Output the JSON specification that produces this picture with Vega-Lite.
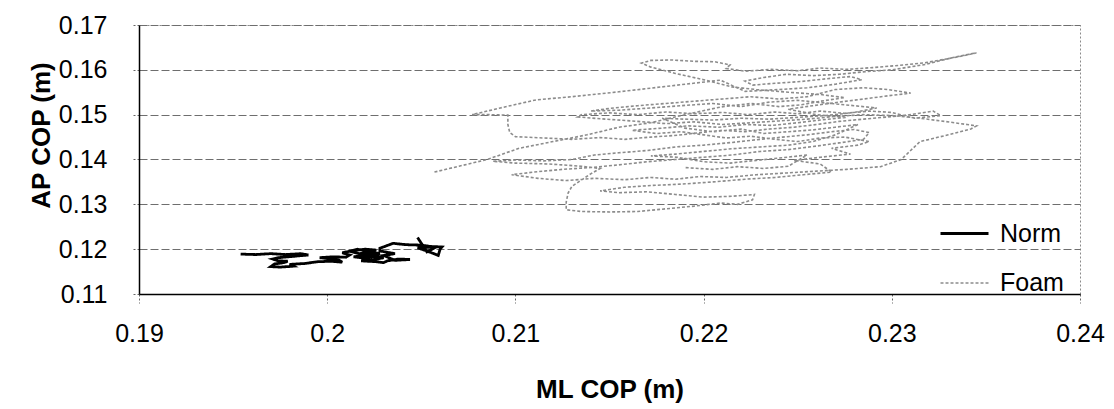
{
  "$schema": "https://vega.github.io/schema/vega-lite/v6.json",
  "width": 941,
  "height": 269,
  "autosize": {"type": "none"},
  "padding": {"left": 139, "top": 25, "right": 34, "bottom": 115},
  "background": "white",
  "config": {
    "font": "Liberation Sans",
    "view": {"stroke": "#8a8a8a", "strokeDash": [2, 2], "strokeWidth": 1},
    "axis": {
      "domainColor": "#000000",
      "domainWidth": 1.5,
      "tickColor": "#666666",
      "tickDash": [2, 2],
      "labelFlush": false,
      "labelOverlap": false,
      "labelFont": "Liberation Sans",
      "labelFontSize": 25,
      "labelColor": "#000000",
      "titleFont": "Liberation Sans",
      "titleFontSize": 26,
      "titleFontWeight": "bold",
      "titleColor": "#000000"
    }
  },
  "data": {"values": [
    {"s":"Norm","i":1,"x":0.1954,"y":0.1189},
    {"s":"Norm","i":2,"x":0.1962,"y":0.1188},
    {"s":"Norm","i":3,"x":0.1970,"y":0.1190},
    {"s":"Norm","i":4,"x":0.1978,"y":0.1188},
    {"s":"Norm","i":5,"x":0.1986,"y":0.1190},
    {"s":"Norm","i":6,"x":0.1990,"y":0.1187},
    {"s":"Norm","i":7,"x":0.1982,"y":0.1184},
    {"s":"Norm","i":8,"x":0.1974,"y":0.1181},
    {"s":"Norm","i":9,"x":0.1971,"y":0.1178},
    {"s":"Norm","i":10,"x":0.1974,"y":0.1174},
    {"s":"Norm","i":11,"x":0.1979,"y":0.1173},
    {"s":"Norm","i":12,"x":0.1977,"y":0.1170},
    {"s":"Norm","i":13,"x":0.1972,"y":0.1167},
    {"s":"Norm","i":14,"x":0.1970,"y":0.1161},
    {"s":"Norm","i":15,"x":0.1975,"y":0.1160},
    {"s":"Norm","i":16,"x":0.1982,"y":0.1162},
    {"s":"Norm","i":17,"x":0.1980,"y":0.1166},
    {"s":"Norm","i":18,"x":0.1988,"y":0.1168},
    {"s":"Norm","i":19,"x":0.1995,"y":0.1172},
    {"s":"Norm","i":20,"x":0.2002,"y":0.1173},
    {"s":"Norm","i":21,"x":0.2008,"y":0.1171},
    {"s":"Norm","i":22,"x":0.2006,"y":0.1176},
    {"s":"Norm","i":23,"x":0.2000,"y":0.1179},
    {"s":"Norm","i":24,"x":0.1996,"y":0.1181},
    {"s":"Norm","i":25,"x":0.2003,"y":0.1183},
    {"s":"Norm","i":26,"x":0.2010,"y":0.1182},
    {"s":"Norm","i":27,"x":0.2012,"y":0.1187},
    {"s":"Norm","i":28,"x":0.2008,"y":0.1192},
    {"s":"Norm","i":29,"x":0.2014,"y":0.1197},
    {"s":"Norm","i":30,"x":0.2020,"y":0.1200},
    {"s":"Norm","i":31,"x":0.2026,"y":0.1198},
    {"s":"Norm","i":32,"x":0.2023,"y":0.1193},
    {"s":"Norm","i":33,"x":0.2017,"y":0.1190},
    {"s":"Norm","i":34,"x":0.2012,"y":0.1195},
    {"s":"Norm","i":35,"x":0.2016,"y":0.1200},
    {"s":"Norm","i":36,"x":0.2022,"y":0.1195},
    {"s":"Norm","i":37,"x":0.2028,"y":0.1190},
    {"s":"Norm","i":38,"x":0.2021,"y":0.1186},
    {"s":"Norm","i":39,"x":0.2014,"y":0.1183},
    {"s":"Norm","i":40,"x":0.2020,"y":0.1180},
    {"s":"Norm","i":41,"x":0.2026,"y":0.1184},
    {"s":"Norm","i":42,"x":0.2030,"y":0.1181},
    {"s":"Norm","i":43,"x":0.2024,"y":0.1176},
    {"s":"Norm","i":44,"x":0.2018,"y":0.1174},
    {"s":"Norm","i":45,"x":0.2026,"y":0.1172},
    {"s":"Norm","i":46,"x":0.2030,"y":0.1170},
    {"s":"Norm","i":47,"x":0.2032,"y":0.1174},
    {"s":"Norm","i":48,"x":0.2038,"y":0.1178},
    {"s":"Norm","i":49,"x":0.2044,"y":0.1177},
    {"s":"Norm","i":50,"x":0.2036,"y":0.1175},
    {"s":"Norm","i":51,"x":0.2030,"y":0.1186},
    {"s":"Norm","i":52,"x":0.2036,"y":0.1190},
    {"s":"Norm","i":53,"x":0.2028,"y":0.1196},
    {"s":"Norm","i":54,"x":0.2028,"y":0.1202},
    {"s":"Norm","i":55,"x":0.2035,"y":0.1213},
    {"s":"Norm","i":56,"x":0.2042,"y":0.1210},
    {"s":"Norm","i":57,"x":0.2050,"y":0.1209},
    {"s":"Norm","i":58,"x":0.2055,"y":0.1206},
    {"s":"Norm","i":59,"x":0.2061,"y":0.1205},
    {"s":"Norm","i":60,"x":0.2060,"y":0.1200},
    {"s":"Norm","i":61,"x":0.2059,"y":0.1186},
    {"s":"Norm","i":62,"x":0.2053,"y":0.1196},
    {"s":"Norm","i":63,"x":0.2048,"y":0.1203},
    {"s":"Norm","i":64,"x":0.2058,"y":0.1205},
    {"s":"Norm","i":65,"x":0.2053,"y":0.1194},
    {"s":"Norm","i":66,"x":0.2048,"y":0.1226},
    {"s":"Foam","i":1,"x":0.2057,"y":0.1372},
    {"s":"Foam","i":2,"x":0.2070,"y":0.1385},
    {"s":"Foam","i":3,"x":0.2085,"y":0.1400},
    {"s":"Foam","i":4,"x":0.2102,"y":0.1425},
    {"s":"Foam","i":5,"x":0.2120,"y":0.1440},
    {"s":"Foam","i":6,"x":0.2138,"y":0.1455},
    {"s":"Foam","i":7,"x":0.2155,"y":0.1472},
    {"s":"Foam","i":8,"x":0.2172,"y":0.1482},
    {"s":"Foam","i":9,"x":0.2190,"y":0.1500},
    {"s":"Foam","i":10,"x":0.2209,"y":0.1517},
    {"s":"Foam","i":11,"x":0.2225,"y":0.1525},
    {"s":"Foam","i":12,"x":0.2240,"y":0.1518},
    {"s":"Foam","i":13,"x":0.2252,"y":0.1522},
    {"s":"Foam","i":14,"x":0.2262,"y":0.1530},
    {"s":"Foam","i":15,"x":0.2275,"y":0.1538},
    {"s":"Foam","i":16,"x":0.2262,"y":0.1545},
    {"s":"Foam","i":17,"x":0.2245,"y":0.1550},
    {"s":"Foam","i":18,"x":0.2228,"y":0.1556},
    {"s":"Foam","i":19,"x":0.2215,"y":0.1562},
    {"s":"Foam","i":20,"x":0.2200,"y":0.1578},
    {"s":"Foam","i":21,"x":0.2185,"y":0.1592},
    {"s":"Foam","i":22,"x":0.2172,"y":0.1606},
    {"s":"Foam","i":23,"x":0.2167,"y":0.1615},
    {"s":"Foam","i":24,"x":0.2172,"y":0.1621},
    {"s":"Foam","i":25,"x":0.2183,"y":0.1622},
    {"s":"Foam","i":26,"x":0.2195,"y":0.1619},
    {"s":"Foam","i":27,"x":0.2206,"y":0.1618},
    {"s":"Foam","i":28,"x":0.2214,"y":0.1611},
    {"s":"Foam","i":29,"x":0.2212,"y":0.1603},
    {"s":"Foam","i":30,"x":0.2222,"y":0.1597},
    {"s":"Foam","i":31,"x":0.2236,"y":0.1601},
    {"s":"Foam","i":32,"x":0.2250,"y":0.1598},
    {"s":"Foam","i":33,"x":0.2262,"y":0.1604},
    {"s":"Foam","i":34,"x":0.2276,"y":0.1601},
    {"s":"Foam","i":35,"x":0.2290,"y":0.1605},
    {"s":"Foam","i":36,"x":0.2304,"y":0.1610},
    {"s":"Foam","i":37,"x":0.2318,"y":0.1616},
    {"s":"Foam","i":38,"x":0.2330,"y":0.1625},
    {"s":"Foam","i":39,"x":0.2340,"y":0.1633},
    {"s":"Foam","i":40,"x":0.2345,"y":0.1638},
    {"s":"Foam","i":41,"x":0.2332,"y":0.1627},
    {"s":"Foam","i":42,"x":0.2318,"y":0.1612},
    {"s":"Foam","i":43,"x":0.2300,"y":0.1600},
    {"s":"Foam","i":44,"x":0.2286,"y":0.1596},
    {"s":"Foam","i":45,"x":0.2272,"y":0.1590},
    {"s":"Foam","i":46,"x":0.2258,"y":0.1587},
    {"s":"Foam","i":47,"x":0.2244,"y":0.1590},
    {"s":"Foam","i":48,"x":0.2232,"y":0.1583},
    {"s":"Foam","i":49,"x":0.2222,"y":0.1575},
    {"s":"Foam","i":50,"x":0.2226,"y":0.1566},
    {"s":"Foam","i":51,"x":0.2238,"y":0.1570},
    {"s":"Foam","i":52,"x":0.2252,"y":0.1574},
    {"s":"Foam","i":53,"x":0.2265,"y":0.1580},
    {"s":"Foam","i":54,"x":0.2278,"y":0.1585},
    {"s":"Foam","i":55,"x":0.2284,"y":0.1578},
    {"s":"Foam","i":56,"x":0.2270,"y":0.1568},
    {"s":"Foam","i":57,"x":0.2255,"y":0.1560},
    {"s":"Foam","i":58,"x":0.2240,"y":0.1556},
    {"s":"Foam","i":59,"x":0.2222,"y":0.1552},
    {"s":"Foam","i":60,"x":0.2209,"y":0.1577},
    {"s":"Foam","i":61,"x":0.2180,"y":0.1563},
    {"s":"Foam","i":62,"x":0.2155,"y":0.1551},
    {"s":"Foam","i":63,"x":0.2130,"y":0.1540},
    {"s":"Foam","i":64,"x":0.2111,"y":0.1533},
    {"s":"Foam","i":65,"x":0.2092,"y":0.1515},
    {"s":"Foam","i":66,"x":0.2077,"y":0.1500},
    {"s":"Foam","i":67,"x":0.2087,"y":0.1500},
    {"s":"Foam","i":68,"x":0.2096,"y":0.1499},
    {"s":"Foam","i":69,"x":0.2096,"y":0.1478},
    {"s":"Foam","i":70,"x":0.2097,"y":0.1460},
    {"s":"Foam","i":71,"x":0.2100,"y":0.1451},
    {"s":"Foam","i":72,"x":0.2115,"y":0.1448},
    {"s":"Foam","i":73,"x":0.2130,"y":0.1445},
    {"s":"Foam","i":74,"x":0.2145,"y":0.1449},
    {"s":"Foam","i":75,"x":0.2158,"y":0.1445},
    {"s":"Foam","i":76,"x":0.2172,"y":0.1450},
    {"s":"Foam","i":77,"x":0.2186,"y":0.1454},
    {"s":"Foam","i":78,"x":0.2198,"y":0.1460},
    {"s":"Foam","i":79,"x":0.2210,"y":0.1465},
    {"s":"Foam","i":80,"x":0.2222,"y":0.1462},
    {"s":"Foam","i":81,"x":0.2235,"y":0.1468},
    {"s":"Foam","i":82,"x":0.2248,"y":0.1472},
    {"s":"Foam","i":83,"x":0.2260,"y":0.1478},
    {"s":"Foam","i":84,"x":0.2272,"y":0.1485},
    {"s":"Foam","i":85,"x":0.2285,"y":0.1490},
    {"s":"Foam","i":86,"x":0.2298,"y":0.1495},
    {"s":"Foam","i":87,"x":0.2310,"y":0.1500},
    {"s":"Foam","i":88,"x":0.2322,"y":0.1508},
    {"s":"Foam","i":89,"x":0.2326,"y":0.1498},
    {"s":"Foam","i":90,"x":0.2312,"y":0.1492},
    {"s":"Foam","i":91,"x":0.2300,"y":0.1505},
    {"s":"Foam","i":92,"x":0.2288,"y":0.1508},
    {"s":"Foam","i":93,"x":0.2275,"y":0.1503},
    {"s":"Foam","i":94,"x":0.2262,"y":0.1508},
    {"s":"Foam","i":95,"x":0.2250,"y":0.1502},
    {"s":"Foam","i":96,"x":0.2238,"y":0.1506},
    {"s":"Foam","i":97,"x":0.2224,"y":0.1500},
    {"s":"Foam","i":98,"x":0.2210,"y":0.1505},
    {"s":"Foam","i":99,"x":0.2195,"y":0.1502},
    {"s":"Foam","i":100,"x":0.2180,"y":0.1506},
    {"s":"Foam","i":101,"x":0.2165,"y":0.1500},
    {"s":"Foam","i":102,"x":0.2150,"y":0.1504},
    {"s":"Foam","i":103,"x":0.2135,"y":0.1500},
    {"s":"Foam","i":104,"x":0.2133,"y":0.1495},
    {"s":"Foam","i":105,"x":0.2148,"y":0.1490},
    {"s":"Foam","i":106,"x":0.2165,"y":0.1485},
    {"s":"Foam","i":107,"x":0.2180,"y":0.1480},
    {"s":"Foam","i":108,"x":0.2195,"y":0.1484},
    {"s":"Foam","i":109,"x":0.2210,"y":0.1478},
    {"s":"Foam","i":110,"x":0.2225,"y":0.1482},
    {"s":"Foam","i":111,"x":0.2240,"y":0.1486},
    {"s":"Foam","i":112,"x":0.2255,"y":0.1490},
    {"s":"Foam","i":113,"x":0.2270,"y":0.1496},
    {"s":"Foam","i":114,"x":0.2285,"y":0.1500},
    {"s":"Foam","i":115,"x":0.2300,"y":0.1498},
    {"s":"Foam","i":116,"x":0.2315,"y":0.1492},
    {"s":"Foam","i":117,"x":0.2328,"y":0.1485},
    {"s":"Foam","i":118,"x":0.2340,"y":0.1478},
    {"s":"Foam","i":119,"x":0.2345,"y":0.1475},
    {"s":"Foam","i":120,"x":0.2342,"y":0.1468},
    {"s":"Foam","i":121,"x":0.2330,"y":0.1455},
    {"s":"Foam","i":122,"x":0.2315,"y":0.1440},
    {"s":"Foam","i":123,"x":0.2305,"y":0.1400},
    {"s":"Foam","i":124,"x":0.2294,"y":0.1384},
    {"s":"Foam","i":125,"x":0.2276,"y":0.1378},
    {"s":"Foam","i":126,"x":0.2260,"y":0.1374},
    {"s":"Foam","i":127,"x":0.2244,"y":0.1370},
    {"s":"Foam","i":128,"x":0.2228,"y":0.1366},
    {"s":"Foam","i":129,"x":0.2212,"y":0.1360},
    {"s":"Foam","i":130,"x":0.2198,"y":0.1362},
    {"s":"Foam","i":131,"x":0.2185,"y":0.1356},
    {"s":"Foam","i":132,"x":0.2172,"y":0.1360},
    {"s":"Foam","i":133,"x":0.2158,"y":0.1355},
    {"s":"Foam","i":134,"x":0.2142,"y":0.1358},
    {"s":"Foam","i":135,"x":0.2127,"y":0.1353},
    {"s":"Foam","i":136,"x":0.2112,"y":0.1358},
    {"s":"Foam","i":137,"x":0.2098,"y":0.1366},
    {"s":"Foam","i":138,"x":0.2110,"y":0.1372},
    {"s":"Foam","i":139,"x":0.2125,"y":0.1378},
    {"s":"Foam","i":140,"x":0.2140,"y":0.1382},
    {"s":"Foam","i":141,"x":0.2155,"y":0.1388},
    {"s":"Foam","i":142,"x":0.2170,"y":0.1395},
    {"s":"Foam","i":143,"x":0.2185,"y":0.1400},
    {"s":"Foam","i":144,"x":0.2200,"y":0.1405},
    {"s":"Foam","i":145,"x":0.2215,"y":0.1410},
    {"s":"Foam","i":146,"x":0.2230,"y":0.1418},
    {"s":"Foam","i":147,"x":0.2245,"y":0.1422},
    {"s":"Foam","i":148,"x":0.2260,"y":0.1430},
    {"s":"Foam","i":149,"x":0.2272,"y":0.1437},
    {"s":"Foam","i":150,"x":0.2285,"y":0.1445},
    {"s":"Foam","i":151,"x":0.2288,"y":0.1460},
    {"s":"Foam","i":152,"x":0.2280,"y":0.1467},
    {"s":"Foam","i":153,"x":0.2268,"y":0.1462},
    {"s":"Foam","i":154,"x":0.2255,"y":0.1455},
    {"s":"Foam","i":155,"x":0.2242,"y":0.1450},
    {"s":"Foam","i":156,"x":0.2228,"y":0.1444},
    {"s":"Foam","i":157,"x":0.2215,"y":0.1438},
    {"s":"Foam","i":158,"x":0.2200,"y":0.1432},
    {"s":"Foam","i":159,"x":0.2185,"y":0.1428},
    {"s":"Foam","i":160,"x":0.2170,"y":0.1420},
    {"s":"Foam","i":161,"x":0.2155,"y":0.1415},
    {"s":"Foam","i":162,"x":0.2142,"y":0.1410},
    {"s":"Foam","i":163,"x":0.2130,"y":0.1400},
    {"s":"Foam","i":164,"x":0.2115,"y":0.1397},
    {"s":"Foam","i":165,"x":0.2100,"y":0.1399},
    {"s":"Foam","i":166,"x":0.2088,"y":0.1396},
    {"s":"Foam","i":167,"x":0.2100,"y":0.1392},
    {"s":"Foam","i":168,"x":0.2118,"y":0.1390},
    {"s":"Foam","i":169,"x":0.2135,"y":0.1385},
    {"s":"Foam","i":170,"x":0.2145,"y":0.1380},
    {"s":"Foam","i":171,"x":0.2140,"y":0.1368},
    {"s":"Foam","i":172,"x":0.2130,"y":0.1340},
    {"s":"Foam","i":173,"x":0.2128,"y":0.1325},
    {"s":"Foam","i":174,"x":0.2127,"y":0.1305},
    {"s":"Foam","i":175,"x":0.2127,"y":0.1288},
    {"s":"Foam","i":176,"x":0.2135,"y":0.1284},
    {"s":"Foam","i":177,"x":0.2150,"y":0.1283},
    {"s":"Foam","i":178,"x":0.2165,"y":0.1284},
    {"s":"Foam","i":179,"x":0.2180,"y":0.1290},
    {"s":"Foam","i":180,"x":0.2195,"y":0.1296},
    {"s":"Foam","i":181,"x":0.2209,"y":0.1303},
    {"s":"Foam","i":182,"x":0.2218,"y":0.1300},
    {"s":"Foam","i":183,"x":0.2226,"y":0.1310},
    {"s":"Foam","i":184,"x":0.2227,"y":0.1322},
    {"s":"Foam","i":185,"x":0.2215,"y":0.1318},
    {"s":"Foam","i":186,"x":0.2200,"y":0.1316},
    {"s":"Foam","i":187,"x":0.2185,"y":0.1322},
    {"s":"Foam","i":188,"x":0.2170,"y":0.1328},
    {"s":"Foam","i":189,"x":0.2155,"y":0.1326},
    {"s":"Foam","i":190,"x":0.2145,"y":0.1330},
    {"s":"Foam","i":191,"x":0.2158,"y":0.1338},
    {"s":"Foam","i":192,"x":0.2172,"y":0.1342},
    {"s":"Foam","i":193,"x":0.2188,"y":0.1345},
    {"s":"Foam","i":194,"x":0.2205,"y":0.1350},
    {"s":"Foam","i":195,"x":0.2222,"y":0.1356},
    {"s":"Foam","i":196,"x":0.2238,"y":0.1360},
    {"s":"Foam","i":197,"x":0.2253,"y":0.1366},
    {"s":"Foam","i":198,"x":0.2268,"y":0.1372},
    {"s":"Foam","i":199,"x":0.2262,"y":0.1390},
    {"s":"Foam","i":200,"x":0.2248,"y":0.1398},
    {"s":"Foam","i":201,"x":0.2262,"y":0.1405},
    {"s":"Foam","i":202,"x":0.2278,"y":0.1412},
    {"s":"Foam","i":203,"x":0.2268,"y":0.1425},
    {"s":"Foam","i":204,"x":0.2282,"y":0.1432},
    {"s":"Foam","i":205,"x":0.2288,"y":0.1440},
    {"s":"Foam","i":206,"x":0.2275,"y":0.1450},
    {"s":"Foam","i":207,"x":0.2262,"y":0.1448},
    {"s":"Foam","i":208,"x":0.2250,"y":0.1440},
    {"s":"Foam","i":209,"x":0.2238,"y":0.1445},
    {"s":"Foam","i":210,"x":0.2225,"y":0.1452},
    {"s":"Foam","i":211,"x":0.2212,"y":0.1448},
    {"s":"Foam","i":212,"x":0.2200,"y":0.1455},
    {"s":"Foam","i":213,"x":0.2188,"y":0.1462},
    {"s":"Foam","i":214,"x":0.2175,"y":0.1458},
    {"s":"Foam","i":215,"x":0.2162,"y":0.1465},
    {"s":"Foam","i":216,"x":0.2178,"y":0.1470},
    {"s":"Foam","i":217,"x":0.2192,"y":0.1475},
    {"s":"Foam","i":218,"x":0.2208,"y":0.1472},
    {"s":"Foam","i":219,"x":0.2222,"y":0.1478},
    {"s":"Foam","i":220,"x":0.2236,"y":0.1476},
    {"s":"Foam","i":221,"x":0.2250,"y":0.1482},
    {"s":"Foam","i":222,"x":0.2262,"y":0.1488},
    {"s":"Foam","i":223,"x":0.2276,"y":0.1494},
    {"s":"Foam","i":224,"x":0.2260,"y":0.1500},
    {"s":"Foam","i":225,"x":0.2245,"y":0.1512},
    {"s":"Foam","i":226,"x":0.2258,"y":0.1520},
    {"s":"Foam","i":227,"x":0.2272,"y":0.1528},
    {"s":"Foam","i":228,"x":0.2285,"y":0.1535},
    {"s":"Foam","i":229,"x":0.2298,"y":0.1542},
    {"s":"Foam","i":230,"x":0.2310,"y":0.1548},
    {"s":"Foam","i":231,"x":0.2298,"y":0.1556},
    {"s":"Foam","i":232,"x":0.2285,"y":0.1560},
    {"s":"Foam","i":233,"x":0.2270,"y":0.1556},
    {"s":"Foam","i":234,"x":0.2255,"y":0.1540},
    {"s":"Foam","i":235,"x":0.2240,"y":0.1535},
    {"s":"Foam","i":236,"x":0.2225,"y":0.1540},
    {"s":"Foam","i":237,"x":0.2210,"y":0.1535},
    {"s":"Foam","i":238,"x":0.2195,"y":0.1530},
    {"s":"Foam","i":239,"x":0.2180,"y":0.1525},
    {"s":"Foam","i":240,"x":0.2165,"y":0.1520},
    {"s":"Foam","i":241,"x":0.2150,"y":0.1514},
    {"s":"Foam","i":242,"x":0.2140,"y":0.1508},
    {"s":"Foam","i":243,"x":0.2155,"y":0.1510},
    {"s":"Foam","i":244,"x":0.2172,"y":0.1515},
    {"s":"Foam","i":245,"x":0.2188,"y":0.1520},
    {"s":"Foam","i":246,"x":0.2205,"y":0.1525},
    {"s":"Foam","i":247,"x":0.2220,"y":0.1518},
    {"s":"Foam","i":248,"x":0.2235,"y":0.1528},
    {"s":"Foam","i":249,"x":0.2250,"y":0.1532},
    {"s":"Foam","i":250,"x":0.2265,"y":0.1526},
    {"s":"Foam","i":251,"x":0.2280,"y":0.1520},
    {"s":"Foam","i":252,"x":0.2292,"y":0.1515},
    {"s":"Foam","i":253,"x":0.2280,"y":0.1505},
    {"s":"Foam","i":254,"x":0.2265,"y":0.1498},
    {"s":"Foam","i":255,"x":0.2250,"y":0.1494},
    {"s":"Foam","i":256,"x":0.2235,"y":0.1490},
    {"s":"Foam","i":257,"x":0.2220,"y":0.1492},
    {"s":"Foam","i":258,"x":0.2205,"y":0.1488},
    {"s":"Foam","i":259,"x":0.2190,"y":0.1490},
    {"s":"Foam","i":260,"x":0.2178,"y":0.1492},
    {"s":"Foam","i":261,"x":0.2190,"y":0.1470},
    {"s":"Foam","i":262,"x":0.2205,"y":0.1462},
    {"s":"Foam","i":263,"x":0.2220,"y":0.1468},
    {"s":"Foam","i":264,"x":0.2232,"y":0.1458},
    {"s":"Foam","i":265,"x":0.2245,"y":0.1462},
    {"s":"Foam","i":266,"x":0.2258,"y":0.1466},
    {"s":"Foam","i":267,"x":0.2270,"y":0.1472},
    {"s":"Foam","i":268,"x":0.2282,"y":0.1478},
    {"s":"Foam","i":269,"x":0.2270,"y":0.1455},
    {"s":"Foam","i":270,"x":0.2258,"y":0.1440},
    {"s":"Foam","i":271,"x":0.2245,"y":0.1432},
    {"s":"Foam","i":272,"x":0.2230,"y":0.1428},
    {"s":"Foam","i":273,"x":0.2215,"y":0.1424},
    {"s":"Foam","i":274,"x":0.2200,"y":0.1418},
    {"s":"Foam","i":275,"x":0.2185,"y":0.1412},
    {"s":"Foam","i":276,"x":0.2172,"y":0.1408},
    {"s":"Foam","i":277,"x":0.2186,"y":0.1405},
    {"s":"Foam","i":278,"x":0.2200,"y":0.1395},
    {"s":"Foam","i":279,"x":0.2214,"y":0.1392},
    {"s":"Foam","i":280,"x":0.2228,"y":0.1398},
    {"s":"Foam","i":281,"x":0.2242,"y":0.1404},
    {"s":"Foam","i":282,"x":0.2255,"y":0.1410},
    {"s":"Foam","i":283,"x":0.2245,"y":0.1385},
    {"s":"Foam","i":284,"x":0.2232,"y":0.1380},
    {"s":"Foam","i":285,"x":0.2218,"y":0.1384},
    {"s":"Foam","i":286,"x":0.2205,"y":0.1378},
    {"s":"Foam","i":287,"x":0.2190,"y":0.1382}
  ]},
  "mark": {"type": "line", "interpolate": "linear"},
  "encoding": {
    "x": {
      "field": "x", "type": "quantitative",
      "scale": {"domain": [0.19, 0.24], "nice": false, "zero": false},
      "axis": {
        "values": [0.19, 0.2, 0.21, 0.22, 0.23, 0.24],
        "format": "~g",
        "title": "ML COP (m)",
        "grid": false,
        "tickSize": 9,
        "labelPadding": 18,
        "titlePadding": 30
      }
    },
    "y": {
      "field": "y", "type": "quantitative",
      "scale": {"domain": [0.11, 0.17], "nice": false, "zero": false},
      "axis": {
        "values": [0.11, 0.12, 0.13, 0.14, 0.15, 0.16, 0.17],
        "format": ".2f",
        "title": "AP COP (m)",
        "grid": true,
        "gridColor": "#6e6e6e",
        "gridDash": [8, 3],
        "gridWidth": 1,
        "tickSize": 8,
        "labelPadding": 24,
        "titlePadding": 4,
        "titleY": 110
      }
    },
    "order": {"field": "i", "type": "quantitative"},
    "color": {
      "field": "s", "type": "nominal",
      "scale": {"domain": ["Norm", "Foam"], "range": ["#000000", "#8c8c8c"]},
      "legend": {"title": null, "orient": "none", "legendX": 800, "legendY": 183, "symbolType": "stroke", "symbolSize": 2304, "symbolStrokeWidth": 2, "labelFontSize": 25, "labelColor": "#000000", "labelOffset": 10, "rowPadding": 11, "padding": 0}
    },
    "strokeDash": {
      "field": "s", "type": "nominal",
      "scale": {"domain": ["Norm", "Foam"], "range": [[1, 0], [3, 2]]},
      "legend": {"title": null, "orient": "none", "legendX": 800, "legendY": 183, "symbolType": "stroke", "symbolSize": 2304, "symbolStrokeWidth": 2, "labelFontSize": 25, "labelColor": "#000000", "labelOffset": 10, "rowPadding": 11, "padding": 0}
    },
    "strokeWidth": {
      "field": "s", "type": "nominal",
      "scale": {"domain": ["Norm", "Foam"], "range": [2.8, 1.6]},
      "legend": null
    }
  }
}
